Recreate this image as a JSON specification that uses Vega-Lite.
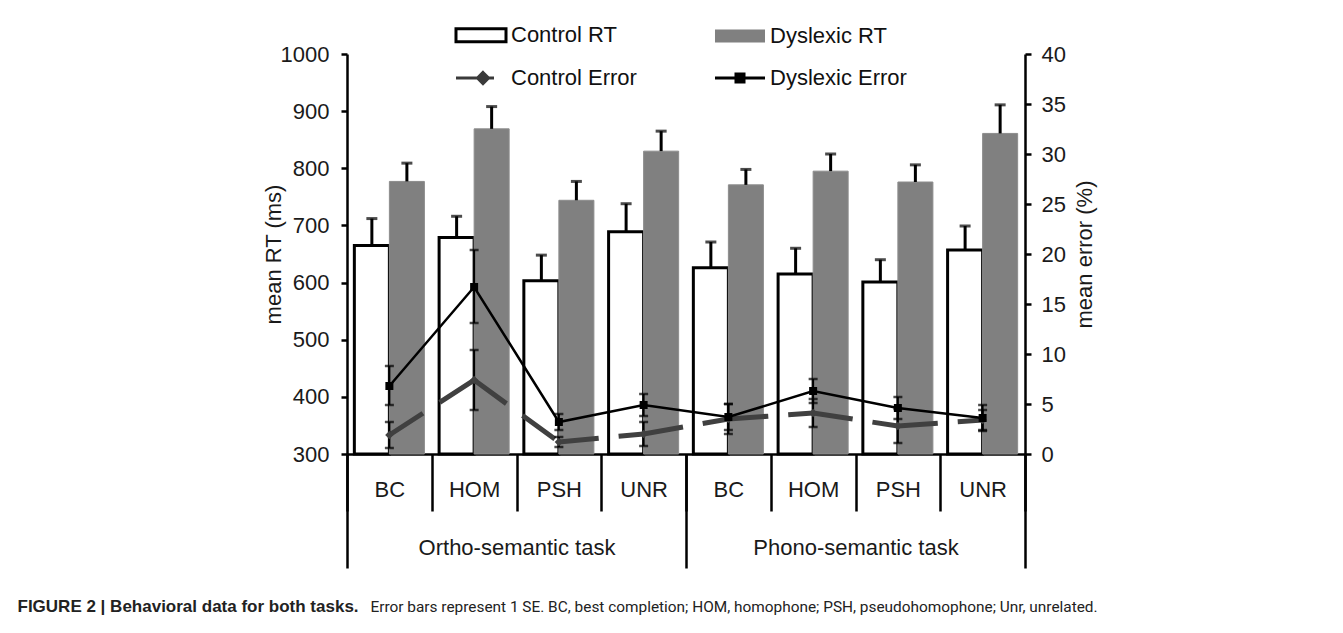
{
  "$schema": "https://vega.github.io/schema/vega-lite/v6.json",
  "width": 678,
  "height": 400,
  "padding": {"left": 17, "top": 24, "right": 10, "bottom": 5},
  "autosize": {"type": "pad"},
  "background": "white",
  "config": {
    "view": {"stroke": null},
    "font": "Liberation Sans",
    "axis": {
      "labelFont": "Liberation Sans", "labelFontSize": 22, "labelColor": "#1a1a1a",
      "titleFont": "Liberation Sans", "titleFontSize": 22, "titleFontWeight": "normal", "titleColor": "#1a1a1a",
      "domainColor": "black", "domainWidth": 2.5, "tickColor": "black", "tickWidth": 2.5, "grid": false, "zindex": 1
    }
  },
  "datasets": {
    "rt": [
      {"cond": "Ortho BC", "group": "Control", "series": "Control RT", "rt": 665, "rt_top": 712},
      {"cond": "Ortho BC", "group": "Dyslexic", "series": "Dyslexic RT", "rt": 777, "rt_top": 809},
      {"cond": "Ortho HOM", "group": "Control", "series": "Control RT", "rt": 679, "rt_top": 716},
      {"cond": "Ortho HOM", "group": "Dyslexic", "series": "Dyslexic RT", "rt": 869, "rt_top": 908},
      {"cond": "Ortho PSH", "group": "Control", "series": "Control RT", "rt": 603, "rt_top": 648},
      {"cond": "Ortho PSH", "group": "Dyslexic", "series": "Dyslexic RT", "rt": 744, "rt_top": 777},
      {"cond": "Ortho UNR", "group": "Control", "series": "Control RT", "rt": 689, "rt_top": 738},
      {"cond": "Ortho UNR", "group": "Dyslexic", "series": "Dyslexic RT", "rt": 830, "rt_top": 865},
      {"cond": "Phono BC", "group": "Control", "series": "Control RT", "rt": 626, "rt_top": 671},
      {"cond": "Phono BC", "group": "Dyslexic", "series": "Dyslexic RT", "rt": 771, "rt_top": 798},
      {"cond": "Phono HOM", "group": "Control", "series": "Control RT", "rt": 615, "rt_top": 660},
      {"cond": "Phono HOM", "group": "Dyslexic", "series": "Dyslexic RT", "rt": 795, "rt_top": 825},
      {"cond": "Phono PSH", "group": "Control", "series": "Control RT", "rt": 601, "rt_top": 640},
      {"cond": "Phono PSH", "group": "Dyslexic", "series": "Dyslexic RT", "rt": 776, "rt_top": 806},
      {"cond": "Phono UNR", "group": "Control", "series": "Control RT", "rt": 657, "rt_top": 699},
      {"cond": "Phono UNR", "group": "Dyslexic", "series": "Dyslexic RT", "rt": 861, "rt_top": 911}
    ],
    "err": [
      {"i": 1, "cond": "Ortho BC", "group": "Control", "err": 1.9, "lo": 0.6, "hi": 3.2},
      {"i": 2, "cond": "Ortho HOM", "group": "Control", "err": 7.4, "lo": 4.4, "hi": 10.4},
      {"i": 3, "cond": "Ortho PSH", "group": "Control", "err": 1.2, "lo": 0.7, "hi": 1.7},
      {"i": 4, "cond": "Ortho UNR", "group": "Control", "err": 2.0, "lo": 0.8, "hi": 3.2},
      {"i": 5, "cond": "Phono BC", "group": "Control", "err": 3.5, "lo": 2.0, "hi": 5.0},
      {"i": 6, "cond": "Phono HOM", "group": "Control", "err": 4.1, "lo": 2.7, "hi": 5.5},
      {"i": 7, "cond": "Phono PSH", "group": "Control", "err": 2.8, "lo": 1.1, "hi": 4.5},
      {"i": 8, "cond": "Phono UNR", "group": "Control", "err": 3.4, "lo": 2.4, "hi": 4.4},
      {"i": 1, "cond": "Ortho BC", "group": "Dyslexic", "err": 6.8, "lo": 4.9, "hi": 8.8},
      {"i": 2, "cond": "Ortho HOM", "group": "Dyslexic", "err": 16.7, "lo": 13.1, "hi": 20.4},
      {"i": 3, "cond": "Ortho PSH", "group": "Dyslexic", "err": 3.2, "lo": 2.4, "hi": 4.0},
      {"i": 4, "cond": "Ortho UNR", "group": "Dyslexic", "err": 4.9, "lo": 3.8, "hi": 6.0},
      {"i": 5, "cond": "Phono BC", "group": "Dyslexic", "err": 3.7, "lo": 2.4, "hi": 5.0},
      {"i": 6, "cond": "Phono HOM", "group": "Dyslexic", "err": 6.3, "lo": 5.1, "hi": 7.5},
      {"i": 7, "cond": "Phono PSH", "group": "Dyslexic", "err": 4.6, "lo": 3.5, "hi": 5.7},
      {"i": 8, "cond": "Phono UNR", "group": "Dyslexic", "err": 3.6, "lo": 2.3, "hi": 4.9}
    ],
    "tasks": [{"task": "Ortho-semantic task"}, {"task": "Phono-semantic task"}]
  },
  "resolve": {"scale": {"x": "independent"}},
  "layer": [
    {
      "encoding": {
        "x": {
          "field": "cond", "type": "nominal",
          "sort": ["Ortho BC", "Ortho HOM", "Ortho PSH", "Ortho UNR", "Phono BC", "Phono HOM", "Phono PSH", "Phono UNR"],
          "scale": {"type": "band", "domain": ["Ortho BC", "Ortho HOM", "Ortho PSH", "Ortho UNR", "Phono BC", "Phono HOM", "Phono PSH", "Phono UNR"], "paddingInner": 0, "paddingOuter": 0},
          "axis": {
            "orient": "bottom", "labelExpr": "split(datum.label, ' ')[1]", "tickBand": "extent", "tickSize": 57,
            "labelPadding": -22, "labelBaseline": "middle", "labelAngle": 0,
            "title": "FIGURE 2 | Behavioral data for both tasks.", "titleFont": "Liberation Sans", "titleFontSize": 17,
            "titleFontWeight": "bold", "titleColor": "#222222", "titleX": -330, "titleY": 152,
            "titleAlign": "left", "titleBaseline": "middle"
          }
        }
      },
      "resolve": {"scale": {"y": "independent"}},
      "layer": [
        {
          "data": {"name": "rt"},
          "layer": [
            {
              "mark": {"type": "bar"},
              "encoding": {
                "xOffset": {"field": "group", "type": "nominal", "scale": {"domain": ["Control", "Dyslexic"], "paddingInner": 0, "paddingOuter": 0.21}},
                "y": {
                  "field": "rt", "type": "quantitative",
                  "scale": {"domain": [300, 1000], "nice": false, "zero": false},
                  "axis": {"orient": "left", "values": [300, 400, 500, 600, 700, 800, 900, 1000], "format": "d", "tickSize": 6, "labelPadding": 12, "title": "mean RT (ms)", "titlePadding": -5}
                },
                "y2": {"datum": 300},
                "fill": {
                  "field": "series", "type": "nominal",
                  "scale": {"domain": ["Control RT", "Control Error", "Dyslexic RT", "Dyslexic Error"], "range": ["#ffffff", "#3a3a3a", "#808080", "#000000"]},
                  "legend": {
                    "orient": "none", "legendX": 123, "legendY": -30, "columns": 2, "title": null,
                    "labelFont": "Liberation Sans", "labelFontSize": 22, "labelColor": "#111111", "labelLimit": 400, "labelOffset": 19,
                    "symbolSize": 900, "columnPadding": 71, "rowPadding": 18, "padding": 0,
                    "encoding": {
                      "symbols": {
                        "shape": {"value": {"expr": "datum.value == 'Control RT' || datum.value == 'Dyslexic RT' ? 'M-1.667,-0.433H1.667V0.433H-1.667Z' : datum.value == 'Control Error' ? 'M-1.667,0H0.867M0.133,-0.367L0.5,0L0.133,0.367L-0.233,0Z' : 'M-1.667,0H1.667M-0.267,-0.267H0.267V0.267H-0.267Z'"}},
                        "fill": {"value": {"expr": "datum.value == 'Control RT' ? '#ffffff' : datum.value == 'Dyslexic RT' ? '#808080' : datum.value == 'Control Error' ? '#3a3a3a' : '#000000'"}},
                        "stroke": {"value": {"expr": "datum.value == 'Control RT' ? '#000000' : datum.value == 'Dyslexic RT' ? '#808080' : datum.value == 'Control Error' ? '#3a3a3a' : '#000000'"}},
                        "strokeWidth": {"value": {"expr": "datum.value == 'Dyslexic RT' ? 0 : 3"}},
                        "opacity": {"value": 1}
                      }
                    }
                  }
                },
                "stroke": {"condition": {"test": "datum.group == 'Control'", "value": "#000000"}, "value": "#8c8c8c"},
                "strokeWidth": {"condition": {"test": "datum.group == 'Control'", "value": 3}, "value": 1}
              }
            },
            {
              "mark": {"type": "rule", "strokeWidth": 3, "color": "black"},
              "encoding": {
                "xOffset": {"field": "group", "type": "nominal", "scale": {"domain": ["Control", "Dyslexic"], "paddingInner": 0, "paddingOuter": 0.21}},
                "y": {"field": "rt", "type": "quantitative"},
                "y2": {"field": "rt_top"}
              }
            },
            {
              "mark": {"type": "tick", "orient": "horizontal", "size": 11, "thickness": 3, "color": "black"},
              "encoding": {
                "xOffset": {"field": "group", "type": "nominal", "scale": {"domain": ["Control", "Dyslexic"], "paddingInner": 0, "paddingOuter": 0.21}},
                "y": {"field": "rt_top", "type": "quantitative"}
              }
            }
          ]
        },
        {
          "data": {"name": "err"},
          "layer": [
            {
              "transform": [
                {"filter": "datum.group == 'Control'"},
                {"window": [{"op": "lead", "field": "err", "as": "err_next"}, {"op": "lead", "field": "cond", "as": "cond_next"}], "sort": [{"field": "i"}]},
                {"filter": "datum.cond_next != null"}
              ],
              "mark": {"type": "rule", "strokeWidth": 5, "color": "#404040", "strokeDash": [40, 20], "strokeCap": "butt"},
              "encoding": {
                "x2": {"field": "cond_next"},
                "y": {
                  "field": "err", "type": "quantitative",
                  "scale": {"domain": [0, 40], "nice": false},
                  "axis": {"orient": "right", "values": [0, 5, 10, 15, 20, 25, 30, 35, 40], "tickSize": 6, "labelPadding": 10, "title": "mean error (%)", "titleAngle": 270, "titleBaseline": "top", "titlePadding": 9}
                },
                "y2": {"field": "err_next"}
              }
            },
            {
              "transform": [{"filter": "datum.group == 'Dyslexic'"}],
              "mark": {"type": "line", "color": "black", "strokeWidth": 2.5},
              "encoding": {
                "y": {"field": "err", "type": "quantitative"},
                "order": {"field": "i", "type": "quantitative"}
              }
            },
            {
              "mark": {"type": "rule", "strokeWidth": 2, "color": "black"},
              "encoding": {
                "y": {"field": "lo", "type": "quantitative"},
                "y2": {"field": "hi"}
              }
            },
            {
              "mark": {"type": "tick", "orient": "horizontal", "size": 9, "thickness": 2.5, "color": "black"},
              "encoding": {"y": {"field": "lo", "type": "quantitative"}}
            },
            {
              "mark": {"type": "tick", "orient": "horizontal", "size": 9, "thickness": 2.5, "color": "black"},
              "encoding": {"y": {"field": "hi", "type": "quantitative"}}
            },
            {
              "transform": [{"filter": "datum.group == 'Control'"}],
              "mark": {"type": "point", "shape": "diamond", "filled": true, "size": 70, "color": "#404040", "opacity": 1},
              "encoding": {"y": {"field": "err", "type": "quantitative"}}
            },
            {
              "transform": [{"filter": "datum.group == 'Dyslexic'"}],
              "mark": {"type": "point", "shape": "square", "filled": true, "size": 64, "color": "#000000", "opacity": 1},
              "encoding": {"y": {"field": "err", "type": "quantitative"}}
            }
          ]
        }
      ]
    },
    {
      "data": {"name": "tasks"},
      "mark": {"type": "point", "opacity": 0},
      "encoding": {
        "x": {
          "field": "task", "type": "nominal",
          "scale": {"type": "band", "paddingInner": 0, "paddingOuter": 0},
          "axis": {
            "orient": "bottom", "tickBand": "extent", "tickSize": 114, "labelPadding": -21, "labelLimit": 400,
            "labelBaseline": "middle", "labelAngle": 0, "domain": false,
            "title": "Error bars represent 1 SE. BC, best completion; HOM, homophone; PSH, pseudohomophone; Unr, unrelated.",
            "titleFont": "Roboto", "titleFontSize": 15.4, "titleFontWeight": "normal", "titleColor": "#222222",
            "titleX": 23, "titleY": 152, "titleAlign": "left", "titleBaseline": "middle"
          }
        }
      }
    }
  ]
}
